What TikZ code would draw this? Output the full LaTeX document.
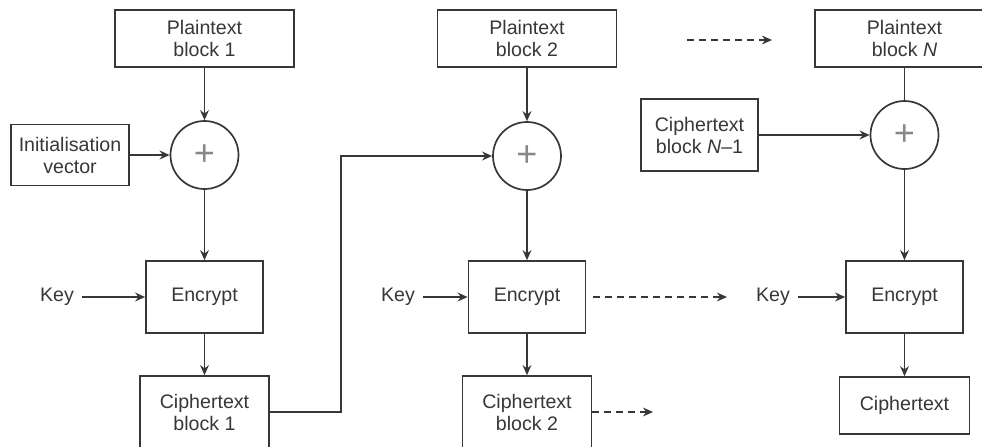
\documentclass[tikz,border=0pt]{standalone}
\usepackage{fontspec}
\setmainfont{Liberation Sans}
\usepackage{tikz}
\usetikzlibrary{arrows.meta}

\definecolor{inkgray}{RGB}{55,55,55}

\begin{document}
\begin{tikzpicture}[x=0.5pt, y=-0.5pt, >={Stealth[length=5pt,width=4.4pt]},
  every node/.style={font=\fontsize{9.8}{11}\selectfont, text=inkgray, align=center},
  blk/.style={draw=inkgray, line width=0.85pt, inner sep=0pt},
  plainbox/.style={blk, minimum width=89.5pt, minimum height=28.5pt},
  encbox/.style={blk, minimum width=58.5pt, minimum height=36pt},
  cipherbox/.style={blk, minimum width=64.5pt, minimum height=36pt},
  xorc/.style={circle, draw=inkgray, line width=0.85pt, minimum size=34pt, inner sep=0pt,
    font=\fontsize{18}{18}\selectfont, text=inkgray!60},
  keylabel/.style={inner sep=4pt},
  flow/.style={inkgray, line width=0.85pt},
  dots/.style={flow, dash pattern=on 3.5pt off 2.5pt}]
\clip (0,0) rectangle (982,446);

% first column
\node[plainbox] (pt1) at (204.5,38.5) {Plaintext\\block 1};
\node[blk, minimum width=59pt, minimum height=30.5pt] (iv) at (70,155) {Initialisation\\vector};
\node[xorc] (xor1) at (204.5,155) {+};
\node[keylabel] (key1) at (57,297) {Key};
\node[encbox] (enc1) at (204.5,297) {Encrypt};
\node[cipherbox] (ct1) at (204.5,412) {Ciphertext\\block 1};

% second column
\node[plainbox] (pt2) at (527,38.5) {Plaintext\\block 2};
\node[xorc] (xor2) at (527,156) {+};
\node[keylabel] (key2) at (398,297) {Key};
\node[encbox] (enc2) at (527,297) {Encrypt};
\node[cipherbox] (ct2) at (527,412) {Ciphertext\\block 2};

% last column
\node[plainbox] (ptN) at (904.5,38.5) {Plaintext\\block \textit{N}};
\node[encbox] (prev) at (699.5,135) {Ciphertext\\block \textit{N}--1};
\node[xorc] (xorN) at (904.5,135) {+};
\node[keylabel] (key3) at (773,297) {Key};
\node[encbox] (encN) at (904.5,297) {Encrypt};
\node[blk, minimum width=65pt, minimum height=28.5pt] (ctN) at (904.5,405.5) {Ciphertext};

\foreach \a/\b in {pt1/xor1, iv/xor1, xor1/enc1, key1/enc1, enc1/ct1,
                   pt2/xor2, xor2/enc2, key2/enc2, enc2/ct2,
                   prev/xorN, xorN/encN, key3/encN, encN/ctN}{
    \draw[flow, ->] (\a) -- (\b);
}
\draw[flow] (ptN) -- (xorN);
\draw[flow, ->] (ct1.east) -- ++(71,0) |- (xor2.west);

% continuation marks
\coordinate (gapA) at (687,40);
\coordinate (gapB) at (772,40);
\coordinate (encnext) at (727,297);
\coordinate (ctnext) at (653,412);
\draw[dots, ->] (gapA) -- (gapB);
\draw[dots, ->, shorten <=3.5pt] (enc2.east) -- (encnext);
\draw[dots, ->] (ct2.east) -- (ctnext);
\end{tikzpicture}
\end{document}
